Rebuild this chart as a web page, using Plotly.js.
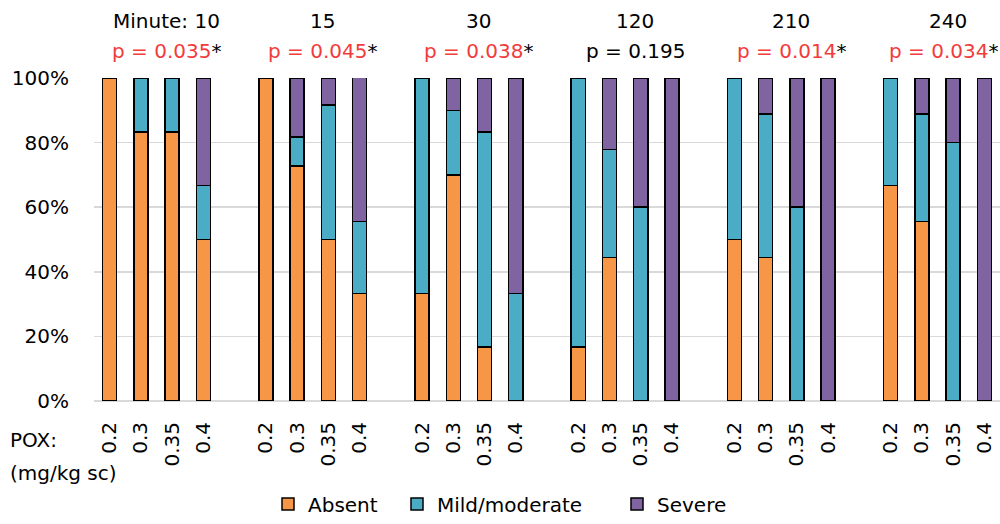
<!DOCTYPE html>
<html>
<head>
<meta charset="utf-8">
<script src="https://cdn.plot.ly/plotly-3.0.1.min.js"></script>
<style>html,body{margin:0;padding:0;background:#fff;}#chart{width:1000px;height:524px;}</style>
</head>
<body>
<div id="chart"></div>
<script>
const minutes = ["10", "15", "30", "120", "210", "240"];
const doses = ["0.2", "0.3", "0.35", "0.4"];
const pValues = ["0.035", "0.045", "0.038", "0.195", "0.014", "0.034"];
const significant = [true, true, true, false, true, true];

// percentages, grouped by minute, then dose
const absent = [100, 83.3, 83.3, 50,  100, 72.7, 50, 33.3,  33.3, 70, 16.7, 0,  16.7, 44.4, 0, 0,  50, 44.4, 0, 0,  66.7, 55.6, 0, 0];
const mild   = [0, 16.7, 16.7, 16.7,  0, 9.1, 41.7, 22.2,  66.7, 20, 66.6, 33.3,  83.3, 33.4, 60, 0,  50, 44.5, 60, 0,  33.3, 33.3, 80, 0];
const severe = [0, 0, 0, 33.3,  0, 18.2, 8.3, 44.6,  0, 10, 16.7, 66.7,  0, 22.2, 40, 100,  0, 11.1, 40, 100,  0, 11.1, 20, 100];

const slotsPerGroup = doses.length + 1;
const xs = [], tickText = [];
minutes.forEach((m, g) => doses.forEach((d, i) => { xs.push(g * slotsPerGroup + i); tickText.push(d); }));

const font = "DejaVu Sans, sans-serif";
const lineStyle = {color: "#000", width: 1.5};
function series(name, vals, color, legendId) {
  return {type: "bar", name: name, x: xs, y: vals.map(v => v === 0 ? null : v),
    marker: {color: color, line: lineStyle}, hoverinfo: "skip", legend: legendId};
}
const traces = [
  series("Absent", absent, "#F79646", "legend"),
  series("Mild/moderate", mild, "#4BACC6", "legend2"),
  series("Severe", severe, "#8064A2", "legend3")
];

const plotTop = 78, plotBottom = 404, plotH = plotBottom - plotTop, plotL = 94, plotW = 1000 - plotL;
function paperY(py) { return (plotBottom - py) / plotH; }
function paperX(px) { return (px - plotL) / plotW; }

const annotations = [];
minutes.forEach((m, g) => {
  const cx = g * slotsPerGroup + (doses.length - 1) / 2;
  const shift = g === minutes.length - 1 ? 6 : 10;
  annotations.push({x: cx, xref: "x", y: paperY(20), yref: "paper", yanchor: "middle",
    text: (g === 0 ? "Minute: " : "") + m, showarrow: false, xshift: 10,
    font: {family: font, size: 20, color: "#000"}});
  const txt = significant[g]
    ? '<span style="color:#F23B3B">p = ' + pValues[g] + '</span>*'
    : 'p = ' + pValues[g];
  annotations.push({x: cx, xref: "x", y: paperY(51), yref: "paper", yanchor: "middle",
    text: txt, showarrow: false, xshift: shift,
    font: {family: font, size: 20, color: "#000"}});
});
annotations.push({x: paperX(8), xref: "paper", xanchor: "left", y: paperY(443), yref: "paper", yanchor: "middle",
  text: "POX:", showarrow: false, font: {family: font, size: 20, color: "#000"}});
annotations.push({x: paperX(8), xref: "paper", xanchor: "left", y: paperY(477), yref: "paper", yanchor: "middle",
  text: "(mg/kg sc)", showarrow: false, font: {family: font, size: 20, color: "#000"}});

function legendAt(px) {
  return {orientation: "h", x: paperX(px), xanchor: "left", y: paperY(508), yanchor: "middle",
    font: {family: font, size: 20, color: "#000"}, itemwidth: 30, bgcolor: "rgba(0,0,0,0)"};
}

const layout = {
  width: 1000, height: 524,
  margin: {l: plotL, r: 0, t: plotTop, b: 524 - plotBottom},
  paper_bgcolor: "#fff", plot_bgcolor: "#fff",
  barmode: "stack", bargap: 0.55,
  showlegend: true,
  legend: legendAt(268),
  legend2: legendAt(397),
  legend3: legendAt(617),
  xaxis: {range: [-0.5, minutes.length * slotsPerGroup - 1.5], tickmode: "array", tickvals: xs, ticktext: tickText,
    tickangle: -90, ticks: "", showgrid: false, zeroline: false, showline: false,
    ticklabelstandoff: 16, tickfont: {family: font, size: 20, color: "#000"}},
  yaxis: {range: [0, 100], dtick: 20, ticksuffix: "%", showgrid: true, gridcolor: "#D9D9D9", gridwidth: 1.5,
    zeroline: true, zerolinecolor: "#D9D9D9", zerolinewidth: 1.5, showline: false, ticks: "",
    ticklabelstandoff: 24, tickfont: {family: font, size: 20, color: "#000"}},
  annotations: annotations
};
Plotly.newPlot("chart", traces, layout, {displayModeBar: false, staticPlot: true});
</script>
</body>
</html>
